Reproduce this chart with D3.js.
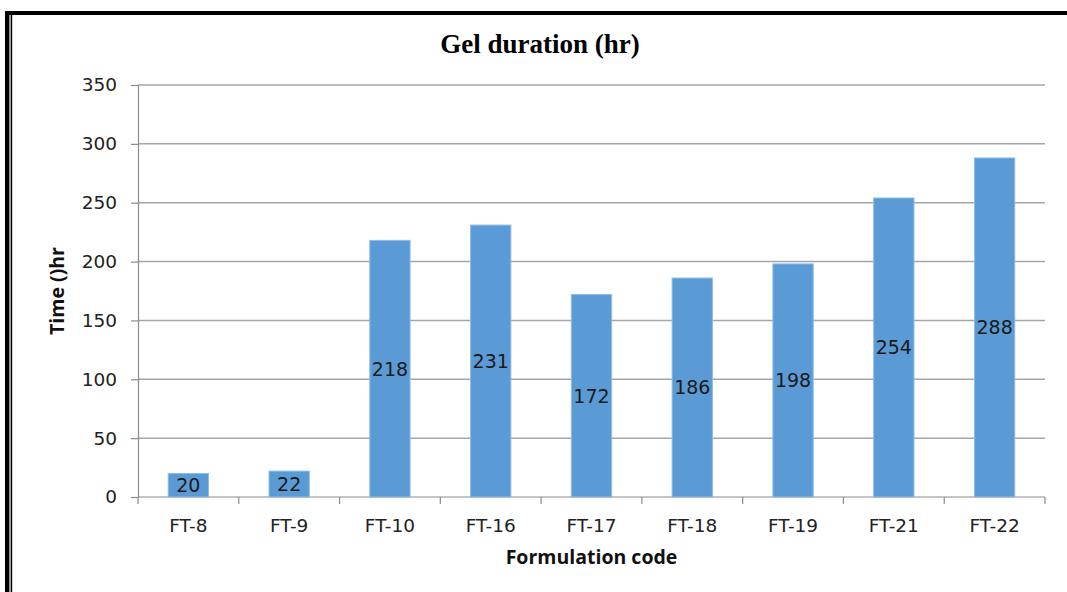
<!DOCTYPE html>
<html>
<head>
<meta charset="utf-8">
<script src="https://cdn.jsdelivr.net/npm/d3@7"></script>
<style>
  body { margin: 0; background: #fff; }
</style>
</head>
<body>
<svg id="chart"></svg>
<script>
// data
const codes = ["FT-8", "FT-9", "FT-10", "FT-16", "FT-17", "FT-18", "FT-19", "FT-21", "FT-22"];
const hours = [20, 22, 218, 231, 172, 186, 198, 254, 288];
const yTicks = [0, 50, 100, 150, 200, 250, 300, 350];

let width = 1067,
    height = 592,
    margin = {top: 85, right: 22, bottom: 95, left: 138};

let svg = d3.select("#chart")
    .attr("width", width)
    .attr("height", height);

// frame: thick top line and double line on the left
svg.append("rect").attr("x", 5).attr("y", 11).attr("width", width).attr("height", 4).attr("fill", "#000");
svg.append("rect").attr("x", 5).attr("y", 11).attr("width", 4).attr("height", height).attr("fill", "#000");
svg.append("rect").attr("x", 9).attr("y", 15).attr("width", 2).attr("height", height).attr("fill", "#9a9a9a");
svg.append("rect").attr("x", 11).attr("y", 15).attr("width", 1.2).attr("height", height).attr("fill", "#000");

let x = d3.scaleBand()
    .domain(codes)
    .range([margin.left, width - margin.right])
    .paddingInner(0.6)
    .paddingOuter(0.3);

let y = d3.scaleLinear()
    .domain([0, 350])
    .range([height - margin.bottom, margin.top]);

// gridlines
svg.append("g")
    .selectAll("line")
    .data(yTicks.filter(d => d > 0))
    .join("line")
    .attr("x1", margin.left)
    .attr("x2", width - margin.right)
    .attr("y1", d => y(d))
    .attr("y2", d => y(d))
    .attr("stroke", "#a6a6a6")
    .attr("stroke-width", 1.5);

// y axis
let yAxis = svg.append("g")
    .attr("transform", `translate(${margin.left},0)`)
    .call(d3.axisLeft(y).tickValues(yTicks).tickSize(7).tickPadding(14).tickSizeOuter(0));
yAxis.select(".domain").attr("stroke", "#8c8c8c").attr("stroke-width", 1.2);
yAxis.selectAll(".tick line").attr("stroke", "#8c8c8c").attr("stroke-width", 1.2);
yAxis.selectAll(".tick text")
    .attr("font-family", "DejaVu Sans")
    .attr("font-size", 18.5)
    .attr("fill", "#222");

// x axis, ticks sit on category boundaries
let step = x.step();
let bounds = d3.range(codes.length + 1).map(i => margin.left + i * step);
let xg = svg.append("g");
xg.append("line")
    .attr("x1", margin.left).attr("x2", width - margin.right)
    .attr("y1", y(0)).attr("y2", y(0))
    .attr("stroke", "#8c8c8c").attr("stroke-width", 1.2);
xg.selectAll("line.tk")
    .data(bounds)
    .join("line")
    .attr("class", "tk")
    .attr("x1", d => d).attr("x2", d => d)
    .attr("y1", y(0)).attr("y2", y(0) + 7)
    .attr("stroke", "#8c8c8c").attr("stroke-width", 1.2);
xg.selectAll("text")
    .data(codes)
    .join("text")
    .attr("x", d => x(d) + x.bandwidth() / 2)
    .attr("y", y(0) + 35)
    .attr("text-anchor", "middle")
    .attr("font-family", "DejaVu Sans")
    .attr("font-size", 18.5)
    .attr("fill", "#222")
    .text(d => d);

// bars
let data = codes.map((c, i) => ({code: c, value: hours[i]}));
svg.append("g")
    .selectAll("rect")
    .data(data)
    .join("rect")
    .attr("x", d => x(d.code))
    .attr("y", d => y(d.value))
    .attr("width", x.bandwidth())
    .attr("height", d => y(0) - y(d.value))
    .attr("fill", "#5b9bd5")
    .attr("stroke", "#8fbbe6")
    .attr("stroke-width", 1);

// value labels in the middle of each bar
svg.append("g")
    .selectAll("text")
    .data(data)
    .join("text")
    .attr("x", d => x(d.code) + x.bandwidth() / 2)
    .attr("y", d => (y(d.value) + y(0)) / 2)
    .attr("dy", "0.36em")
    .attr("text-anchor", "middle")
    .attr("font-family", "DejaVu Sans")
    .attr("font-size", 19)
    .attr("fill", "#1a1a1a")
    .text(d => d.value);

// title and axis titles
svg.append("text")
    .attr("x", 540)
    .attr("y", 53)
    .attr("text-anchor", "middle")
    .attr("font-family", "Liberation Serif")
    .attr("font-weight", "bold")
    .attr("font-size", 27)
    .attr("fill", "#000")
    .text("Gel duration (hr)");

svg.append("text")
    .attr("x", (margin.left + width - margin.right) / 2)
    .attr("y", 564)
    .attr("text-anchor", "middle")
    .attr("font-family", "Open Sans")
    .attr("font-weight", "bold")
    .attr("font-size", 19.5)
    .attr("fill", "#111")
    .text("Formulation code");

svg.append("text")
    .attr("transform", `translate(64,${(y(0) + y(350)) / 2}) rotate(-90)`)
    .attr("text-anchor", "middle")
    .attr("font-family", "Open Sans")
    .attr("font-weight", "bold")
    .attr("font-size", 19.5)
    .attr("fill", "#111")
    .text("Time ()hr");
</script>
</body>
</html>
